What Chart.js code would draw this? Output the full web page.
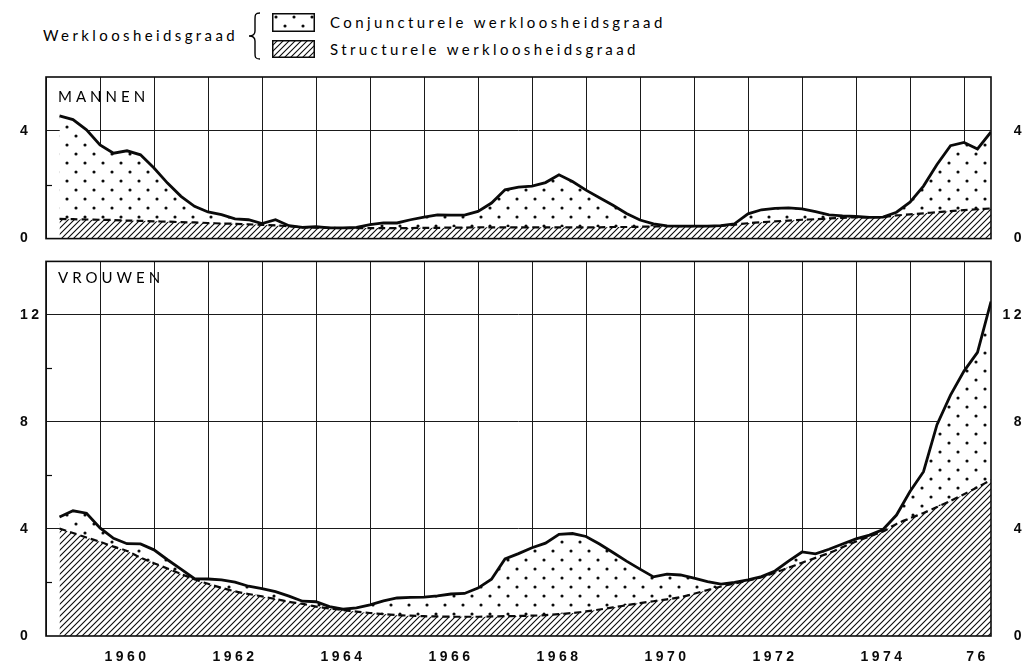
<!DOCTYPE html>
<html>
<head>
<meta charset="utf-8">
<script src="https://cdn.jsdelivr.net/npm/chart.js@4.4.1/dist/chart.umd.min.js"></script>
<style>
  body { margin: 0; background: #fff; }
  #page { position: relative; width: 1029px; height: 664px; overflow: hidden; font-family: Lato, 'Open Sans', sans-serif; color: #000; }
  .txt { position: absolute; font-size: 15px; line-height: 18px; letter-spacing: 3.4px; white-space: nowrap; }
  .panel { letter-spacing: 4px; }
  canvas { position: absolute; left: 0; }
</style>
</head>
<body>
<div id="page">
  <canvas id="menChart" width="1029" height="190" style="top:60px"></canvas>
  <canvas id="womenChart" width="1029" height="414" style="top:250px"></canvas>

  <div class="txt" style="left:43px;top:26px">Werkloosheidsgraad</div>
  <svg style="position:absolute;left:246px;top:11px" width="18" height="50">
    <path d="M14,2 C9,2 9,4 9,8 L9,20 C9,24 7,25 3,25 C7,25 9,26 9,30 L9,42 C9,46 9,48 14,48" fill="none" stroke="#000" stroke-width="1.4"/>
  </svg>
  <canvas id="boxConj" width="43" height="19" style="left:272px;top:13px"></canvas>
  <canvas id="boxStruct" width="43" height="18" style="left:272px;top:40px"></canvas>
  <div class="txt" style="left:330px;top:13px">Conjuncturele werkloosheidsgraad</div>
  <div class="txt" style="left:330px;top:40px">Structurele werkloosheidsgraad</div>

  <div class="txt panel" style="left:58px;top:87px">MANNEN</div>
  <div class="txt panel" style="left:58px;top:268px">VROUWEN</div>
</div>

<script>
// quarterly figures, first point is the end of 1959 Q1
const firstQuarter = 1959.25;
const xMin = 1959;
const xMax = 1976.5;
const xLabelPos = [1960.5, 1962.5, 1964.5, 1966.5, 1968.5, 1970.5, 1972.5, 1974.5, 1976.25];
const xLabels = ['1960', '1962', '1964', '1966', '1968', '1970', '1972', '1974', '76'];

const menTotal = [
  4.56, 4.42, 4.04, 3.48, 3.17, 3.26, 3.11, 2.62, 2.06, 1.57,
  1.20, 0.99, 0.89, 0.73, 0.70, 0.56, 0.70, 0.48, 0.42, 0.44,
  0.40, 0.40, 0.42, 0.52, 0.58, 0.58, 0.70, 0.80, 0.88, 0.87,
  0.87, 1.01, 1.32, 1.81, 1.91, 1.95, 2.08, 2.37, 2.12, 1.80,
  1.52, 1.24, 0.93, 0.69, 0.55, 0.47, 0.46, 0.46, 0.46, 0.48,
  0.55, 0.92, 1.07, 1.12, 1.14, 1.10, 1.00, 0.88, 0.84, 0.82,
  0.79, 0.80, 0.98, 1.35, 1.95, 2.75, 3.45, 3.57, 3.33, 3.96
];
const menStruct = [
  0.73, 0.72, 0.71, 0.70, 0.69, 0.67, 0.66, 0.64, 0.63, 0.61,
  0.60, 0.58, 0.56, 0.55, 0.53, 0.51, 0.49, 0.46, 0.42, 0.41,
  0.40, 0.39, 0.39, 0.39, 0.39, 0.39, 0.39, 0.40, 0.40, 0.41,
  0.41, 0.42, 0.42, 0.42, 0.42, 0.42, 0.42, 0.42, 0.42, 0.42,
  0.42, 0.43, 0.43, 0.44, 0.45, 0.46, 0.46, 0.46, 0.46, 0.47,
  0.52, 0.57, 0.61, 0.64, 0.67, 0.70, 0.72, 0.75, 0.77, 0.79,
  0.79, 0.80, 0.86, 0.90, 0.94, 0.98, 1.02, 1.06, 1.09, 1.12
];
const womenTotal = [
  4.45, 4.68, 4.59, 4.04, 3.65, 3.45, 3.44, 3.22, 2.85, 2.50,
  2.14, 2.13, 2.10, 2.01, 1.86, 1.77, 1.66, 1.49, 1.30, 1.28,
  1.10, 1.00, 1.05, 1.16, 1.31, 1.42, 1.44, 1.45, 1.50, 1.57,
  1.59, 1.79, 2.12, 2.88, 3.08, 3.30, 3.47, 3.80, 3.83, 3.72,
  3.44, 3.12, 2.80, 2.50, 2.21, 2.31, 2.28, 2.16, 2.03, 1.94,
  2.00, 2.10, 2.22, 2.43, 2.80, 3.14, 3.07, 3.24, 3.44, 3.63,
  3.77, 3.98, 4.52, 5.40, 6.14, 7.90, 9.00, 9.90, 10.60, 12.50
];
const womenStruct = [
  4.02, 3.85, 3.68, 3.52, 3.34, 3.18, 2.93, 2.72, 2.52, 2.32,
  2.12, 1.95, 1.80, 1.67, 1.57, 1.48, 1.38, 1.28, 1.20, 1.10,
  1.03, 0.97, 0.91, 0.86, 0.82, 0.78, 0.76, 0.74, 0.73, 0.72,
  0.72, 0.72, 0.73, 0.74, 0.75, 0.76, 0.78, 0.82, 0.86, 0.92,
  0.99, 1.07, 1.15, 1.23, 1.30, 1.37, 1.45, 1.58, 1.72, 1.85,
  1.96, 2.07, 2.20, 2.37, 2.55, 2.74, 2.92, 3.10, 3.32, 3.53,
  3.72, 3.91, 4.19, 4.40, 4.60, 4.82, 5.05, 5.30, 5.56, 5.83
];

const menTicks = [0, 4];
const menMinor = [2];
const womenTicks = [0, 4, 8, 12];
const womenMinor = [2, 6, 10];

const ink = '#0a0a0a';

function dotPattern(ctx) {
  const c = document.createElement('canvas');
  c.width = 18; c.height = 18;
  const g = c.getContext('2d');
  g.fillStyle = '#fff';
  g.fillRect(0, 0, 18, 18);
  g.fillStyle = ink;
  [[4, 4], [13, 13]].forEach(([x, y]) => {
    g.beginPath(); g.arc(x, y, 1.55, 0, Math.PI * 2); g.fill();
  });
  return ctx.createPattern(c, 'repeat');
}

function hatchPattern(ctx) {
  const s = 6;
  const c = document.createElement('canvas');
  c.width = s; c.height = s;
  const g = c.getContext('2d');
  g.fillStyle = '#fff';
  g.fillRect(0, 0, s, s);
  g.strokeStyle = ink;
  g.lineWidth = 1.1;
  g.beginPath();
  g.moveTo(0, s); g.lineTo(s, 0);
  g.moveTo(-1, 1); g.lineTo(1, -1);
  g.moveTo(s - 1, s + 1); g.lineTo(s + 1, s - 1);
  g.stroke();
  return ctx.createPattern(c, 'repeat');
}

function toPoints(values) {
  return values.map((v, i) => ({ x: firstQuarter + i * 0.25, y: v }));
}

// the original uses wide letter spacing everywhere
const spacing = {
  id: 'spacing',
  beforeUpdate(chart) { chart.ctx.letterSpacing = '3.5px'; },
  beforeDraw(chart) { chart.ctx.letterSpacing = '3.5px'; }
};

// box round the plot and the small inner ticks on the left
const frame = {
  id: 'frame',
  afterDatasetsDraw(chart, args, opts) {
    const { ctx, chartArea: a, scales } = chart;
    ctx.save();
    ctx.strokeStyle = ink;
    ctx.lineWidth = 1.6;
    ctx.strokeRect(a.left, a.top, a.right - a.left, a.bottom - a.top);
    ctx.lineWidth = 1.2;
    opts.minor.forEach(v => {
      const y = Math.round(scales.y.getPixelForValue(v)) + 0.5;
      ctx.beginPath(); ctx.moveTo(a.left, y); ctx.lineTo(a.left + 6, y); ctx.stroke();
    });
    ctx.restore();
  }
};

function makeChart(id, total, struct, yMax, yTicks, minor, withLabels, pad) {
  const ctx = document.getElementById(id).getContext('2d');
  const tickFont = { family: "'Liberation Sans', Arial, sans-serif", size: 14, weight: 'bold' };

  const scales = {
    x: {
      type: 'linear', min: xMin, max: xMax,
      afterFit: s => { s.height = 0; },
      ticks: { display: false, stepSize: 1, includeBounds: false },
      grid: { color: '#1a1a1a', lineWidth: 1, drawTicks: false },
      border: { display: false }
    },
    y: {
      min: 0, max: yMax,
      afterBuildTicks: s => { s.ticks = yTicks.map(v => ({ value: v })); },
      afterFit: s => { s.width = 26; },
      ticks: { crossAlign: 'far', color: ink, font: tickFont },
      grid: { color: c => (c.tick && c.tick.value === 0 ? 'rgba(0,0,0,0)' : '#1a1a1a'), lineWidth: 1, drawTicks: false },
      border: { display: false }
    },
    y2: {
      position: 'right', min: 0, max: yMax,
      afterBuildTicks: s => { s.ticks = yTicks.map(v => ({ value: v })); },
      afterFit: s => { s.width = 34; },
      ticks: { crossAlign: 'far', color: ink, font: tickFont },
      grid: { display: false },
      border: { display: false }
    }
  };

  if (withLabels) {
    scales.xl = {
      type: 'linear', position: 'bottom', min: xMin, max: xMax,
      afterBuildTicks: s => { s.ticks = xLabelPos.map(v => ({ value: v })); },
      afterFit: s => { s.height = 28; },
      ticks: {
        callback: (v, i) => xLabels[i],
        autoSkip: false, maxRotation: 0, padding: 5,
        color: ink, font: tickFont
      },
      grid: { display: false },
      border: { display: false }
    };
  }

  return new Chart(ctx, {
    type: 'line',
    data: {
      datasets: [{
        label: 'Structurele werkloosheidsgraad',
        data: toPoints(struct),
        yAxisID: 'y',
        borderColor: ink,
        borderWidth: 2.2,
        borderDash: [7, 4],
        backgroundColor: hatchPattern(ctx),
        fill: 'origin',
        tension: 0.3,
        pointRadius: 0
      }, {
        label: 'Conjuncturele werkloosheidsgraad',
        data: toPoints(total),
        yAxisID: 'y',
        borderColor: ink,
        borderWidth: 2.8,
        backgroundColor: dotPattern(ctx),
        fill: '-1',
        tension: 0,
        pointRadius: 0
      }]
    },
    options: {
      responsive: false,
      animation: false,
      devicePixelRatio: 1,
      layout: { padding: pad },
      scales: scales,
      plugins: {
        legend: { display: false },
        tooltip: { enabled: false },
        filler: { drawTime: 'beforeDatasetsDraw' },
        frame: { minor: minor }
      }
    },
    plugins: [spacing, frame]
  });
}

function drawBox(id, makePattern) {
  const c = document.getElementById(id);
  const g = c.getContext('2d');
  g.fillStyle = makePattern(g);
  g.fillRect(0, 0, c.width, c.height);
  g.strokeStyle = ink;
  g.lineWidth = 1.5;
  g.strokeRect(0.75, 0.75, c.width - 1.5, c.height - 1.5);
}

document.addEventListener('DOMContentLoaded', function () {
  makeChart('menChart', menTotal, menStruct, 6, menTicks, menMinor, false,
    { top: 17, bottom: 11, left: 20, right: 4 });
  makeChart('womenChart', womenTotal, womenStruct, 14, womenTicks, womenMinor, true,
    { top: 8, bottom: 0, left: 20, right: 4 });
  drawBox('boxConj', dotPattern);
  drawBox('boxStruct', hatchPattern);
});
</script>
</body>
</html>
